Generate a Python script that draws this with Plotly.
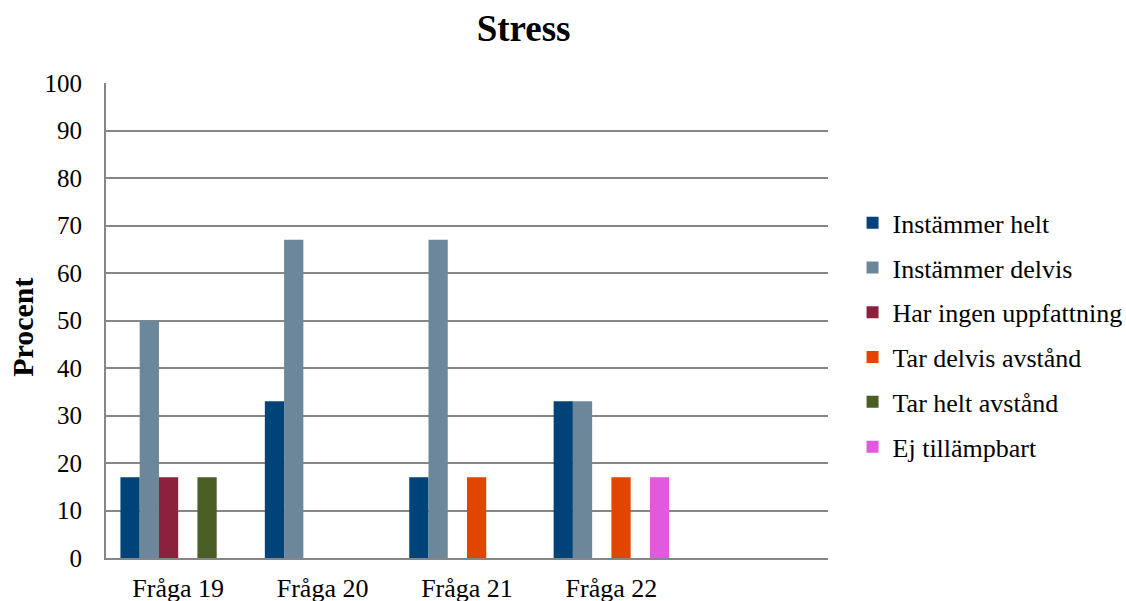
import plotly.graph_objects as go

categories = ["Fråga 19", "Fråga 20", "Fråga 21", "Fråga 22"]
series_names = [
    "Instämmer helt",
    "Instämmer delvis",
    "Har ingen uppfattning",
    "Tar delvis avstånd",
    "Tar helt avstånd",
    "Ej tillämpbart",
]
instammer_helt = [17, 33, 17, 33]
instammer_delvis = [50, 67, 67, 33]
har_ingen_uppfattning = [17, 0, 0, 0]
tar_delvis_avstand = [0, 0, 17, 17]
tar_helt_avstand = [17, 0, 0, 0]
ej_tillampbart = [0, 0, 0, 17]
y_ticks = [0, 10, 20, 30, 40, 50, 60, 70, 80, 90, 100]

values = [instammer_helt, instammer_delvis, har_ingen_uppfattning,
          tar_delvis_avstand, tar_helt_avstand, ej_tillampbart]
colors = ["#004379", "#6B8799", "#8B213C", "#E14600", "#4B5E26", "#E05AE0"]

FONT = "Liberation Serif, Times New Roman, serif"

fig = go.Figure()
for i, (name, vals, col) in enumerate(zip(series_names, values, colors)):
    fig.add_trace(go.Bar(
        name=name, x=categories, y=vals,
        marker=dict(color=col, line=dict(width=0)),
        legendgroup=f"g{i}",
    ))

fig.update_layout(
    width=1126, height=601,
    margin=dict(l=106, r=298, t=83, b=43, autoexpand=False),
    paper_bgcolor="white", plot_bgcolor="white",
    barmode="group", bargap=0.2, bargroupgap=0,
    font=dict(family=FONT, color="black"),
    title=dict(text="<b>Stress</b>", x=0.465, xanchor="center", y=0.953, yanchor="middle",
               font=dict(size=37, family=FONT, color="black")),
    legend=dict(x=1.034, xanchor="left", y=0.47, yanchor="middle",
                font=dict(size=26, family=FONT), tracegroupgap=8,
                itemwidth=30, bgcolor="rgba(0,0,0,0)"),
    showlegend=True,
    annotations=[dict(
        text="<b>Procent</b>", textangle=-90,
        xref="paper", yref="paper", x=-0.116, y=0.485,
        xanchor="center", yanchor="middle", showarrow=False,
        font=dict(size=30, family=FONT, color="black"),
    )],
)
fig.update_xaxes(
    type="category", range=[-0.5, 4.5], automargin=False,
    showline=True, linecolor="#868686", linewidth=2,
    showgrid=False, ticks="", tickfont=dict(size=26, family=FONT),
    ticklabelstandoff=6,
)
fig.update_yaxes(
    range=[0, 100], tickvals=y_ticks, automargin=False,
    showline=True, linecolor="#868686", linewidth=2,
    showgrid=True, gridcolor="#868686", gridwidth=2,
    zeroline=False, ticks="", tickfont=dict(size=25, family=FONT),
    ticklabelstandoff=17,
)

fig.write_html("out.html")
